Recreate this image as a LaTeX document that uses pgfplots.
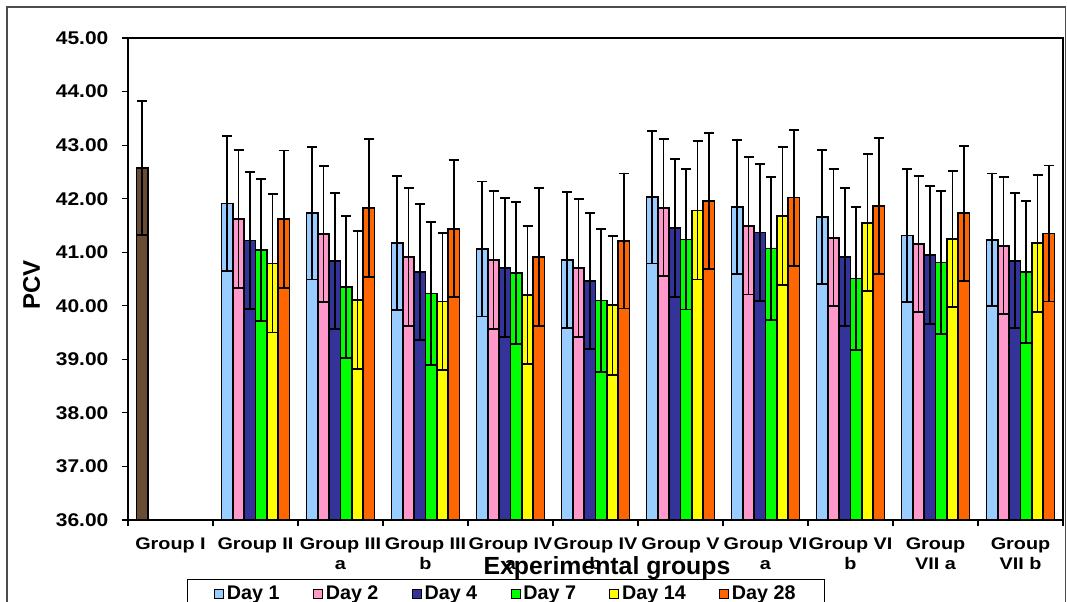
\documentclass[border=0pt]{standalone}
\usepackage{pgfplots}
\pgfplotsset{compat=1.18}
\usepackage{pgfplotstable}
\usepackage{fontspec}
\setmainfont{Liberation Sans}
\newfontfamily\ytickfont{Liberation Sans}[FakeStretch=1.14]
\newfontfamily\xtickfont{Liberation Sans}[FakeStretch=1.18]

\definecolor{dA}{RGB}{153,204,255}
\definecolor{dB}{RGB}{255,153,204}
\definecolor{dC}{RGB}{51,51,153}
\definecolor{dD}{RGB}{0,255,0}
\definecolor{dE}{RGB}{255,255,0}
\definecolor{dF}{RGB}{255,102,0}
\definecolor{brownbar}{RGB}{104,76,52}

\pgfplotstableread{
x y e
0 42.57 1.25
}\groupone
\pgfplotstableread{
x y e
1 41.91 1.26
2 41.73 1.24
3 41.17 1.25
4 41.06 1.26
5 40.85 1.27
6 42.03 1.24
7 41.84 1.25
8 41.66 1.25
9 41.31 1.24
10 41.23 1.24
}\dayone
\pgfplotstableread{
x y e
1 41.62 1.29
2 41.34 1.27
3 40.91 1.29
4 40.85 1.29
5 40.71 1.29
6 41.83 1.28
7 41.49 1.28
8 41.27 1.28
9 41.15 1.27
10 41.12 1.28
}\daytwo
\pgfplotstableread{
x y e
1 41.22 1.28
2 40.83 1.27
3 40.63 1.27
4 40.71 1.30
5 40.46 1.27
6 41.45 1.29
7 41.37 1.28
8 40.91 1.29
9 40.95 1.29
10 40.84 1.26
}\dayfour
\pgfplotstableread{
x y e
1 41.04 1.32
2 40.35 1.33
3 40.23 1.33
4 40.61 1.33
5 40.10 1.33
6 41.24 1.31
7 41.07 1.33
8 40.51 1.33
9 40.81 1.33
10 40.63 1.33
}\dayseven
\pgfplotstableread{
x y e
1 40.79 1.29
2 40.11 1.29
3 40.08 1.28
4 40.20 1.29
5 40.01 1.30
6 41.78 1.29
7 41.68 1.29
8 41.55 1.28
9 41.25 1.27
10 41.17 1.28
}\dayfourteen
\pgfplotstableread{
x y e
1 41.62 1.28
2 41.82 1.29
3 41.44 1.28
4 40.91 1.29
5 41.21 1.26
6 41.96 1.27
7 42.02 1.27
8 41.86 1.27
9 41.73 1.26
10 41.35 1.27
}\daytwentyeight

\begin{document}
\begin{tikzpicture}
\useasboundingbox (0,0) rectangle (800.25pt,451.5pt);
% chart frame
\draw[black!70, line width=0.8pt] (5.25pt,-5pt) -- (5.25pt,446.25pt) -- (799pt,446.25pt) -- (799pt,-5pt);
\begin{axis}[
  at={(96pt,61.5pt)}, anchor=south west,
  scale only axis, width=701.25pt, height=361.5pt,
  ybar, bar width=0.1333,
  xmin=-0.5, xmax=10.5, ymin=36, ymax=45,
  ytick={36,37,...,45},
  xtick={0,...,10},
  xticklabels={Group I, Group II, {Group III\\a}, {Group III\\b}, {Group IV\\a}, {Group IV\\b}, Group V, {Group VI\\a}, {Group VI\\b}, {Group\\VII a}, {Group\\VII b}},
  minor xtick={-0.5,0.5,...,10.5},
  major x tick style={draw=none},
  tick align=outside, tick pos=left,
  major tick length=4.5pt, minor tick length=4.5pt,
  every tick/.style={black, line width=0.9pt},
  axis line style={black, line width=1.3pt},
  yticklabel style={font=\ytickfont\bfseries\fontsize{13.8}{15}\selectfont, anchor=east, inner sep=0pt, xshift=-10pt},
  /pgf/number format/assume math mode=true,
  /pgf/number format/.cd, fixed, fixed zerofill, precision=2, /pgfplots/.cd,
  xticklabel style={font=\xtickfont\bfseries\fontsize{12.6}{15}\selectfont, align=center, anchor=north, inner sep=0pt, yshift=-9pt},
  xlabel={Experimental groups},
  xlabel style={font=\bfseries\fontsize{18.6}{20}\selectfont, at={(axis description cs:0.5123,-0.1141)}, anchor=base},
  ylabel={PCV},
  ylabel style={font=\bfseries\fontsize{18}{20}\selectfont, at={(axis description cs:-0.1030,0.4876)}, anchor=center, rotate=0},
  legend columns=6,
  legend style={at={(axis description cs:0.0631,-0.1224)}, anchor=north west, draw=black, line width=0.8pt,
    font=\bfseries\fontsize{14.8}{17}\selectfont, inner xsep=20pt, inner ysep=3pt,
    /tikz/every even column/.append style={column sep=23pt}},
  legend image code/.code={\draw[#1, draw=black, line width=0.8pt] (0pt,-3.4pt) rectangle (6.8pt,3.4pt);},
  error bars/y dir=both, error bars/y explicit,
  error bars/error bar style={black, line width=1.4pt},
  error bars/error mark options={black, line width=1.4pt, mark size=3.75pt, rotate=90},
]
\addplot[forget plot, fill=brownbar, draw=black, line width=1.3pt, bar shift=-0.3333] table[x=x,y=y,y error=e]{\groupone};
\addplot[fill=dA, draw=black, line width=1.3pt, bar shift=-0.3333] table[x=x,y=y,y error=e]{\dayone};
\addplot[fill=dB, draw=black, line width=1.3pt, bar shift=-0.2] table[x=x,y=y,y error=e]{\daytwo};
\addplot[fill=dC, draw=black, line width=1.3pt, bar shift=-0.0667] table[x=x,y=y,y error=e]{\dayfour};
\addplot[fill=dD, draw=black, line width=1.3pt, bar shift=0.0667] table[x=x,y=y,y error=e]{\dayseven};
\addplot[fill=dE, draw=black, line width=1.3pt, bar shift=0.2] table[x=x,y=y,y error=e]{\dayfourteen};
\addplot[fill=dF, draw=black, line width=1.3pt, bar shift=0.3333] table[x=x,y=y,y error=e]{\daytwentyeight};
\legend{Day 1, Day 2, Day 4, Day 7, Day 14, Day 28}
\end{axis}
\end{tikzpicture}
\end{document}
